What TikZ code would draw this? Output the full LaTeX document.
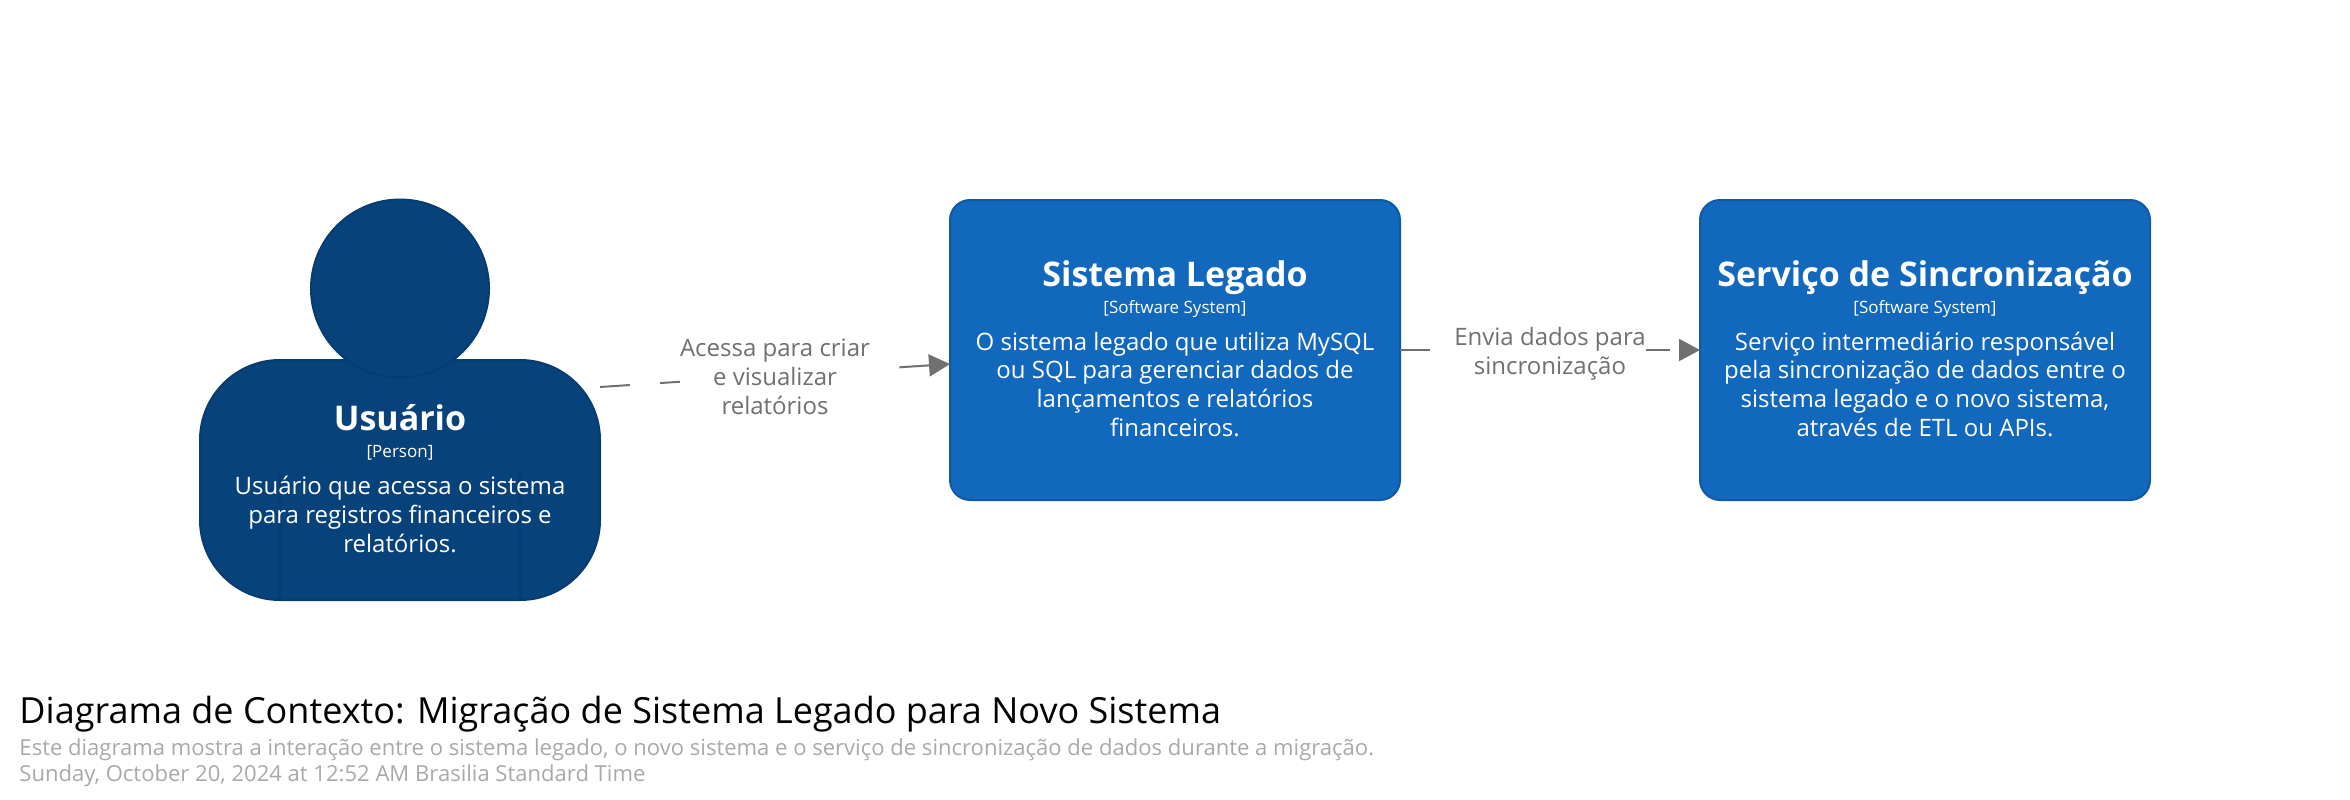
\documentclass[tikz,border=0pt]{standalone}
\usepackage{fontspec}
\setmainfont{Open Sans}
\usetikzlibrary{arrows.meta,positioning}

\definecolor{pessoaazul}{HTML}{08427B}
\definecolor{pessoaborda}{HTML}{073C70}
\definecolor{sistemaazul}{HTML}{1168BD}
\definecolor{sistemaborda}{HTML}{0E5AA5}
\definecolor{relacaocinza}{HTML}{707070}
\definecolor{legendacinza}{HTML}{A9A9A9}

\newcommand{\elemento}[3]{{\fontsize{34}{34}\selectfont\bfseries\rule{0pt}{31pt}#1}\\[-2pt]
	{\fontsize{17}{17}\selectfont #2}\\[8pt] #3\rule[-8pt]{0pt}{0pt}}

\begin{document}
\begin{tikzpicture}[x=1pt,y=-1pt,node distance=750pt,
	                    >={Triangle[length=21pt,width=22pt]},line width=2pt]
	  \tikzstyle{texto}=[text=white,align=center,font=\fontsize{24}{28.8}\selectfont]
	  \tikzstyle{pessoa}=[texto,draw=pessoaborda,fill=pessoaazul,rounded corners=80pt,
	                      minimum width=400pt,minimum height=240pt,outer sep=0pt,
	                      path picture={\foreach \lado in {-120,120}
	                        \draw[pessoaborda,line width=1.5pt] ([xshift=\lado pt]path picture bounding box.south) -- ++(0,-133);}]
	  \tikzstyle{cabeca}=[circle,draw=pessoaborda,fill=pessoaazul,minimum size=178pt,outer sep=0pt]
	  \tikzstyle{sistema}=[texto,draw=sistemaborda,fill=sistemaazul,rounded corners=20pt,
	                       minimum width=450pt,minimum height=300pt,outer sep=0pt]
	  \tikzstyle{relacao}=[->,draw=relacaocinza,dash pattern=on 30pt off 30pt]
	  \tikzstyle{rotulo}=[midway,fill=white,text=relacaocinza,align=center,inner sep=0pt,
	                      font=\fontsize{24}{29}\selectfont]
	  \tikzstyle{titulo}=[anchor=base west,inner sep=0pt]

	  \useasboundingbox (0,0) rectangle (2350,800);

	  \node[pessoa]  (usuario) at (400,480) {\elemento{Usuário}{[Person]}{Usuário que acessa o sistema\\
	      para registros financeiros e\\relatórios.}};
	  \node[cabeca]  (cabeca)  at (400,288.5) {};

	  \node[sistema] (legado) at (1175,350) {\elemento{Sistema Legado}{[Software System]}{O sistema legado que utiliza MySQL\\
	      ou SQL para gerenciar dados de\\lançamentos e relatórios\\financeiros.}};
	  \node[sistema] (sincronizacao) [right of=legado] {\elemento{Serviço de Sincronização}{[Software System]}{Serviço intermediário responsável\\
	      pela sincronização de dados entre o\\sistema legado e o novo sistema,\\através de ETL ou APIs.}};

	  \draw[relacao] ([yshift=93pt]usuario.east) -- node[rotulo,yshift=-1pt] {Acessa para criar\\e visualizar\\relatórios} ([yshift=-14pt]legado.west);
	  \draw[relacao] (legado.east) -- node[rotulo,yshift=-4pt] {Envia dados para\\sincronização} (sincronizacao.west);

	  \node[titulo,font=\fontsize{36}{36}\selectfont] (diagrama) at (18.5,723) {Diagrama de Contexto: Migração de Sistema Legado para Novo Sistema};
	  \node[titulo,text=legendacinza,font=\fontsize{22.05}{22}\selectfont] (descricao) at (18.5,755) {Este diagrama mostra a interação entre o sistema legado, o novo sistema e o serviço de sincronização de dados durante a migração.};
	  \node[titulo,text=legendacinza,font=\fontsize{22.05}{22}\selectfont] (data) at (18.5,781) {Sunday, October 20, 2024 at 12:52 AM Brasilia Standard Time};
\end{tikzpicture}
\end{document}
